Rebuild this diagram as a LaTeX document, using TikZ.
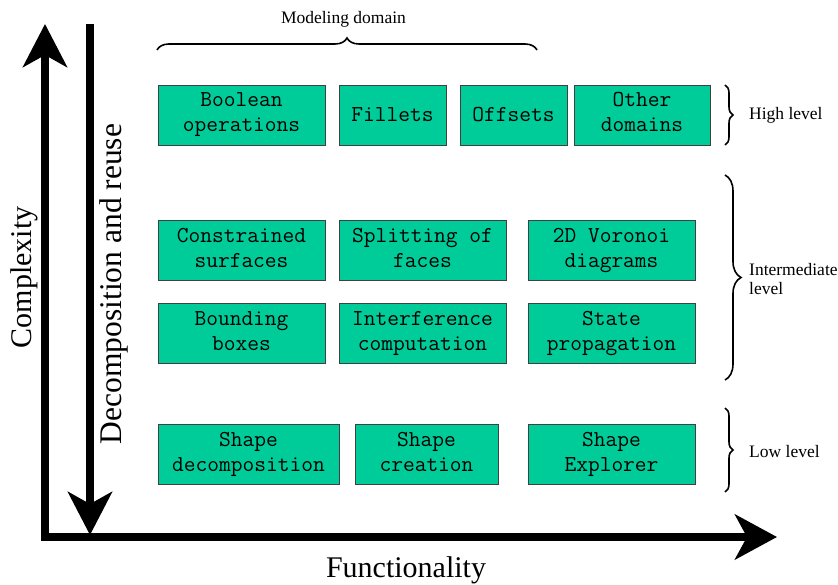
\documentclass[tikz,border=0pt]{standalone}
\usepackage{fontspec}
\setmainfont{Liberation Serif}
\usetikzlibrary{arrows.meta,decorations.pathreplacing}
\definecolor{boxgreen}{RGB}{0,204,153}
\tikzset{
  % invisible rules fix the first-line height and last-line depth so every box text sits level
  block/.style={draw=black!75, line width=0.8pt, fill=boxgreen, minimum height=60pt,
    inner sep=0pt, align=center, font=\fontsize{22.8}{25}\selectfont\ttfamily,
    execute at begin node={\rule{0pt}{19.5pt}}, execute at end node={\rule[-5.5pt]{0pt}{5.5pt}}},
  axisline/.style={line width=8.5pt},
  bigtip/.style={-{Stealth[length=43pt,width=44pt,inset=12pt]}},
  levelbrace/.style={decorate, decoration={brace, amplitude=#1}, line width=1.6pt},
  lbl/.style={font=\fontsize{17.5}{19}\selectfont, anchor=west, align=left, inner sep=0pt},
  axislabel/.style={font=\fontsize{30}{36}\selectfont, inner sep=0pt}
}
\begin{document}
\begin{tikzpicture}[x=1pt,y=1pt]
  \useasboundingbox (0,0) rectangle (838,584);

  % axes
  \coordinate (cplxfoot) at (45,43);
  \coordinate (cplxtip) at (45,560);
  \coordinate (decotop) at (90,560);
  \coordinate (decotip) at (90,49);
  \coordinate (funcfoot) at (41,47);
  \coordinate (functip) at (777,47);
  \draw[axisline, bigtip] (cplxfoot) -- (cplxtip);
  \draw[axisline, bigtip] (decotop) -- (decotip);
  \draw[axisline, -{Stealth[length=42pt,width=45pt,inset=12pt]}] (funcfoot) -- (functip);

  \node[axislabel, rotate=90] (cplx) at (24,306.5) {Complexity};
  \node[axislabel, rotate=90, font=\fontsize{31.5}{36}\selectfont] (deco) at (114,300) {Decomposition and reuse};
  \node[axislabel] (func) at (406,14) {Functionality};

  % high level
  \node[block, minimum width=167pt] (bool) at (241.5,469) {Boolean\\operations};
  \node[block, minimum width=107pt] (fill) at (392.5,469) {Fillets};
  \node[block, minimum width=107pt] (offs) at (513.5,469) {Offsets};
  \node[block, minimum width=136pt] (other) at (642,469) {Other\\domains};

  % intermediate level
  \node[block, minimum width=167pt] (constr) at (241.5,333.5) {Constrained\\surfaces};
  \node[block, minimum width=167pt] (split) at (422.5,333.5) {Splitting of\\faces};
  \node[block, minimum width=167pt] (voro) at (611.5,333.5) {2D Voronoi\\diagrams};
  \node[block, minimum width=167pt] (bbox) at (241.5,250.5) {Bounding\\boxes};
  \node[block, minimum width=167pt] (interf) at (422.5,250.5) {Interference\\computation};
  \node[block, minimum width=167pt] (state) at (611.5,250.5) {State\\propagation};

  % low level
  \node[block, minimum width=181pt] (sdec) at (248.5,129.5) {Shape\\decomposition};
  \node[block, minimum width=143pt] (screa) at (426.5,129.5) {Shape\\creation};
  \node[block, minimum width=167pt] (sexp) at (611.5,129.5) {Shape\\Explorer};

  % braces and their labels
  \draw[levelbrace=12pt] (157,534) -- (537,534);
  \node[font=\fontsize{17.5}{19}\selectfont, inner sep=0pt] (domain) at (343.5,565) {Modeling domain};

  \draw[levelbrace=8pt] (725,499) -- (725,439);
  \node[lbl] (high) at (749,469) {High level};
  \draw[levelbrace=16pt] (725,409) -- (725,204);
  \node[lbl] (inter) at (749,305) {Intermediate\\level};
  \draw[levelbrace=8pt] (725,176) -- (725,92);
  \node[lbl] (low) at (749,132) {Low level};
\end{tikzpicture}
\end{document}
